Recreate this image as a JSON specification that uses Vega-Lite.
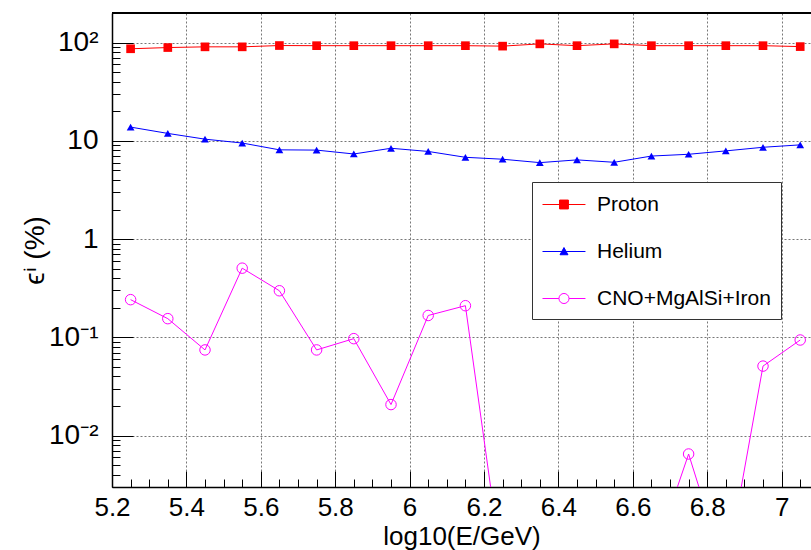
{
  "$schema": "https://vega.github.io/schema/vega-lite/v6.json",
  "autosize": "none",
  "width": 699,
  "height": 474,
  "padding": {"left": 112, "top": 13, "right": 0, "bottom": 63},
  "background": "white",
  "config": {
    "view": {"stroke": null},
    "axis": {"labelFont": "Liberation Sans", "titleFont": "Liberation Sans", "labelColor": "#000", "titleColor": "#000", "domainColor": "#000", "tickColor": "#000", "titleFontWeight": "normal"}
  },
  "data": {"values": [
    {"series": "Proton", "x": 5.25, "v": 86.5}, {"series": "Proton", "x": 5.35, "v": 89}, {"series": "Proton", "x": 5.45, "v": 90.5},
    {"series": "Proton", "x": 5.55, "v": 90.5}, {"series": "Proton", "x": 5.65, "v": 93.3}, {"series": "Proton", "x": 5.75, "v": 93},
    {"series": "Proton", "x": 5.85, "v": 93}, {"series": "Proton", "x": 5.95, "v": 93}, {"series": "Proton", "x": 6.05, "v": 93},
    {"series": "Proton", "x": 6.15, "v": 93}, {"series": "Proton", "x": 6.25, "v": 92}, {"series": "Proton", "x": 6.35, "v": 97},
    {"series": "Proton", "x": 6.45, "v": 93}, {"series": "Proton", "x": 6.55, "v": 97}, {"series": "Proton", "x": 6.65, "v": 93},
    {"series": "Proton", "x": 6.75, "v": 93}, {"series": "Proton", "x": 6.85, "v": 93}, {"series": "Proton", "x": 6.95, "v": 93},
    {"series": "Proton", "x": 7.05, "v": 91},
    {"series": "Helium", "x": 5.25, "v": 13.8}, {"series": "Helium", "x": 5.35, "v": 11.9}, {"series": "Helium", "x": 5.45, "v": 10.4},
    {"series": "Helium", "x": 5.55, "v": 9.5}, {"series": "Helium", "x": 5.65, "v": 8.1}, {"series": "Helium", "x": 5.75, "v": 8.05},
    {"series": "Helium", "x": 5.85, "v": 7.35}, {"series": "Helium", "x": 5.95, "v": 8.4}, {"series": "Helium", "x": 6.05, "v": 7.8},
    {"series": "Helium", "x": 6.15, "v": 6.8}, {"series": "Helium", "x": 6.25, "v": 6.5}, {"series": "Helium", "x": 6.35, "v": 6.0},
    {"series": "Helium", "x": 6.45, "v": 6.4}, {"series": "Helium", "x": 6.55, "v": 6.05}, {"series": "Helium", "x": 6.65, "v": 7.0},
    {"series": "Helium", "x": 6.75, "v": 7.3}, {"series": "Helium", "x": 6.85, "v": 7.9}, {"series": "Helium", "x": 6.95, "v": 8.6},
    {"series": "Helium", "x": 7.05, "v": 9.1},
    {"series": "CNO+MgAlSi+Iron", "x": 5.25, "v": 0.242}, {"series": "CNO+MgAlSi+Iron", "x": 5.35, "v": 0.155}, {"series": "CNO+MgAlSi+Iron", "x": 5.45, "v": 0.0745},
    {"series": "CNO+MgAlSi+Iron", "x": 5.55, "v": 0.506}, {"series": "CNO+MgAlSi+Iron", "x": 5.65, "v": 0.298}, {"series": "CNO+MgAlSi+Iron", "x": 5.75, "v": 0.0745},
    {"series": "CNO+MgAlSi+Iron", "x": 5.85, "v": 0.097}, {"series": "CNO+MgAlSi+Iron", "x": 5.95, "v": 0.0207}, {"series": "CNO+MgAlSi+Iron", "x": 6.05, "v": 0.167},
    {"series": "CNO+MgAlSi+Iron", "x": 6.15, "v": 0.21}, {"series": "CNO+MgAlSi+Iron", "x": 6.25, "v": 0.0004}, {"series": "CNO+MgAlSi+Iron", "x": 6.35, "v": 0.0004},
    {"series": "CNO+MgAlSi+Iron", "x": 6.45, "v": 0.0004}, {"series": "CNO+MgAlSi+Iron", "x": 6.55, "v": 0.0004}, {"series": "CNO+MgAlSi+Iron", "x": 6.65, "v": 0.0005},
    {"series": "CNO+MgAlSi+Iron", "x": 6.75, "v": 0.0065}, {"series": "CNO+MgAlSi+Iron", "x": 6.85, "v": 0.0004}, {"series": "CNO+MgAlSi+Iron", "x": 6.95, "v": 0.051},
    {"series": "CNO+MgAlSi+Iron", "x": 7.05, "v": 0.094}
  ]},
  "encoding": {
    "x": {"field": "x", "type": "quantitative",
      "scale": {"domain": [5.2, 7.079], "zero": false, "nice": false},
      "axis": {
        "title": "log10(E/GeV)", "titleFontSize": 26, "titleY": 57, "titleBaseline": "alphabetic",
        "values": [5.2,5.25,5.3,5.35,5.4,5.45,5.5,5.55,5.6,5.65,5.7,5.75,5.8,5.85,5.9,5.95,6,6.05,6.1,6.15,6.2,6.25,6.3,6.35,6.4,6.45,6.5,6.55,6.6,6.65,6.7,6.75,6.8,6.85,6.9,6.95,7,7.05],
        "labelExpr": "abs(datum.value*5 - round(datum.value*5)) < 0.001 ? format(datum.value, '.1~f') : ''",
        "labelFontSize": 26, "labelPadding": 23, "labelFlush": false, "labelOverlap": false,
        "tickSize": {"condition": {"test": "abs(datum.value*5 - round(datum.value*5)) < 0.001", "value": -16}, "value": -8},
        "grid": true, "gridColor": "#777", "gridDash": [2, 2],
        "gridOpacity": {"condition": {"test": "abs(datum.value*5 - round(datum.value*5)) < 0.001", "value": 1}, "value": 0},
        "domainWidth": 1.5
      }
    },
    "y": {"field": "v", "type": "quantitative",
      "scale": {"type": "log", "domain": [0.003, 200], "nice": false},
      "axis": {
        "title": "ϵⁱ (%)", "titleFontSize": 28, "titleX": -77, "titleBaseline": "middle",
        "values": [0.003,0.004,0.005,0.006,0.007,0.008,0.009,0.01,0.02,0.03,0.04,0.05,0.06,0.07,0.08,0.09,0.1,0.2,0.3,0.4,0.5,0.6,0.7,0.8,0.9,1,2,3,4,5,6,7,8,9,10,20,30,40,50,60,70,80,90,100,200],
        "labelExpr": "datum.value == 100 ? '10²' : datum.value == 10 ? '10' : datum.value == 1 ? '1' : datum.value == 0.1 ? '10⁻¹' : datum.value == 0.01 ? '10⁻²' : ''",
        "labelFontSize": 28, "labelPadding": 35, "labelFlush": false, "labelOverlap": false,
        "tickSize": {"condition": {"test": "datum.value == 100 || datum.value == 10 || datum.value == 1 || datum.value == 0.1 || datum.value == 0.01", "value": -21}, "value": -8},
        "grid": true, "gridColor": "#777", "gridDash": [2, 2],
        "gridOpacity": {"condition": {"test": "datum.value == 100 || datum.value == 10 || datum.value == 1 || datum.value == 0.1 || datum.value == 0.01", "value": 1}, "value": 0},
        "domainWidth": 1.5
      }
    }
  },
  "layer": [
    {
      "transform": [{"filter": "datum.series == 'Proton'"}],
      "mark": {"type": "line", "strokeWidth": 1, "color": "#ff0000", "clip": true},
      "encoding": {}
    },
    {
      "transform": [{"filter": "datum.series == 'Helium'"}],
      "mark": {"type": "line", "strokeWidth": 1, "color": "#0000ff", "clip": true},
      "encoding": {}
    },
    {
      "transform": [{"filter": "datum.series == 'CNO+MgAlSi+Iron'"}],
      "mark": {"type": "line", "strokeWidth": 1, "color": "#ff00ff", "clip": true},
      "encoding": {}
    },
    {
      "transform": [{"filter": "datum.series == 'Proton'"}],
      "mark": {"type": "point", "shape": "square", "filled": true, "color": "#ff0000", "opacity": 1, "size": 75, "clip": true}
    },
    {
      "transform": [{"filter": "datum.series == 'Helium'"}],
      "mark": {"type": "point", "shape": "triangle-up", "filled": true, "color": "#0000ff", "opacity": 1, "size": 60, "clip": true}
    },
    {
      "transform": [{"filter": "datum.series == 'CNO+MgAlSi+Iron'"}],
      "mark": {"type": "point", "shape": "circle", "filled": false, "color": "#ff00ff", "opacity": 1, "size": 110, "strokeWidth": 1, "clip": true}
    },
    {
      "mark": {"type": "rule", "color": "#000", "strokeWidth": 1.5},
      "encoding": {"y": {"datum": 200}, "x": {}}
    },
    {
      "mark": {"type": "point", "opacity": 1, "strokeWidth": 1, "size": 0},
      "encoding": {
        "shape": {"field": "series", "type": "nominal",
          "scale": {"domain": ["Proton", "Helium", "CNO+MgAlSi+Iron"],
            "range": ["M-1,0H2.58M0.42,-0.37H1.16V0.37H0.42Z", "M-1,0H2.58M0.79,-0.33L1.12,0.27H0.46Z", "M-1,0H0.37M1.21,0H2.58M1.21,0A0.42,0.42 0 1 1 0.37,0A0.42,0.42 0 1 1 1.21,0Z"]},
          "legend": {"title": null, "orient": "none", "legendX": 420, "legendY": 169, "padding": 10, "symbolSize": 576, "symbolStrokeWidth": 1, "rowPadding": 24, "labelOffset": 30, "labelFontSize": 21, "labelFont": "Liberation Sans", "labelColor": "#000", "strokeColor": "#333", "fillColor": "#fff", "labelLimit": 300}},
        "stroke": {"field": "series", "type": "nominal",
          "scale": {"domain": ["Proton", "Helium", "CNO+MgAlSi+Iron"], "range": ["#ff0000", "#0000ff", "#ff00ff"]},
          "legend": {"title": null, "orient": "none", "legendX": 420, "legendY": 169, "padding": 10, "symbolSize": 576, "symbolStrokeWidth": 1, "rowPadding": 24, "labelOffset": 30, "labelFontSize": 21, "labelFont": "Liberation Sans", "labelColor": "#000", "strokeColor": "#333", "fillColor": "#fff", "labelLimit": 300}},
        "fill": {"field": "series", "type": "nominal",
          "scale": {"domain": ["Proton", "Helium", "CNO+MgAlSi+Iron"], "range": ["#ff0000", "#0000ff", "#ffffff"]},
          "legend": {"title": null, "orient": "none", "legendX": 420, "legendY": 169, "padding": 10, "symbolSize": 576, "symbolStrokeWidth": 1, "rowPadding": 24, "labelOffset": 30, "labelFontSize": 21, "labelFont": "Liberation Sans", "labelColor": "#000", "strokeColor": "#333", "fillColor": "#fff", "labelLimit": 300}}
      }
    }
  ]
}
